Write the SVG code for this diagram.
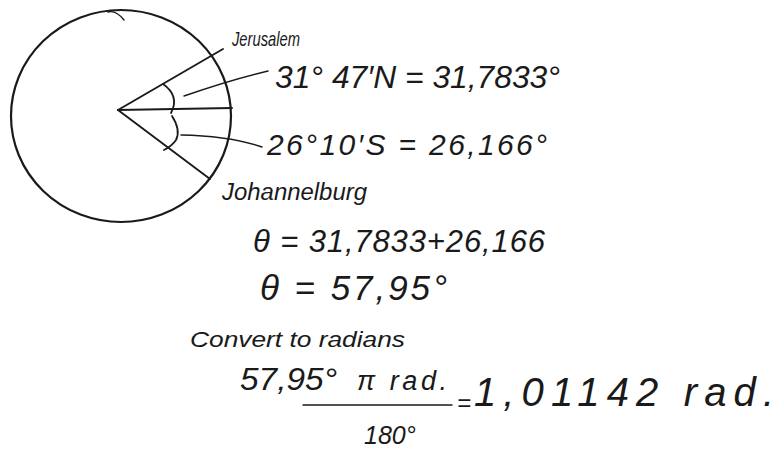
<svg xmlns="http://www.w3.org/2000/svg" width="778" height="451" viewBox="0 0 778 451">
<style>
.ink{fill:none;stroke:#1a1a1a;stroke-linecap:round;stroke-linejoin:round}
.t{font-family:"Liberation Sans","DejaVu Sans",sans-serif;fill:#1a1a1a;font-style:italic}
</style>
<rect width="778" height="451" fill="#ffffff"/>
<g id="globe">
<ellipse class="ink" cx="121" cy="116" rx="110" ry="106" stroke-width="2.2"/>
<path class="ink" d="M108 12 Q116 10 124 20" stroke-width="1.4"/>
</g>
<g id="rays">
<line class="ink" x1="118" y1="110" x2="223" y2="49" stroke-width="1.9"/>
<line class="ink" x1="118" y1="110" x2="232" y2="108" stroke-width="1.9"/>
<line class="ink" x1="118" y1="110" x2="210" y2="179" stroke-width="1.9"/>
<path class="ink" d="M163 84 Q180 96 171 113" stroke-width="1.8"/>
<path class="ink" d="M172 116 Q181 130 176 140 Q172 146 164 150" stroke-width="1.8"/>
</g>
<g id="pointers">
<path class="ink" d="M184 96 Q230 80 268 71" stroke-width="1.4"/>
<path class="ink" d="M181 135 Q230 136 262 147" stroke-width="1.4"/>
</g>
<g id="labels">
<text class="t" x="232" y="46" font-size="21" textLength="68" lengthAdjust="spacingAndGlyphs">Jerusalem</text>
<text class="t" x="275" y="88" font-size="31" textLength="285" lengthAdjust="spacingAndGlyphs">31° 47′N = 31,7833°</text>
<text class="t" x="267" y="155" font-size="30" textLength="280" lengthAdjust="spacing">26°10′S = 26,166°</text>
<text class="t" x="222" y="200" font-size="23" textLength="145" lengthAdjust="spacingAndGlyphs">Johannelburg</text>
</g>
<g id="work">
<text class="t" x="253" y="252" font-size="31" textLength="292" lengthAdjust="spacing">θ = 31,7833+26,166</text>
<text class="t" x="260" y="300" font-size="35" textLength="187" lengthAdjust="spacing">θ = 57,95°</text>
<text class="t" x="190" y="347" font-size="22" textLength="215" lengthAdjust="spacingAndGlyphs">Convert to radians</text>
<text class="t" x="240" y="390" font-size="32" textLength="97" lengthAdjust="spacingAndGlyphs">57,95°</text>
<text class="t" x="357" y="390" font-size="27" textLength="90" lengthAdjust="spacing">π rad.</text>
<line class="ink" x1="303" y1="405" x2="452" y2="405" stroke-width="1.4"/>
<text class="t" x="457" y="411" font-size="24">=</text>
<text class="t" x="474" y="406" font-size="40" textLength="300" lengthAdjust="spacing">1,01142 rad.</text>
<text class="t" x="364" y="444" font-size="25">180°</text>
</g>
</svg>
